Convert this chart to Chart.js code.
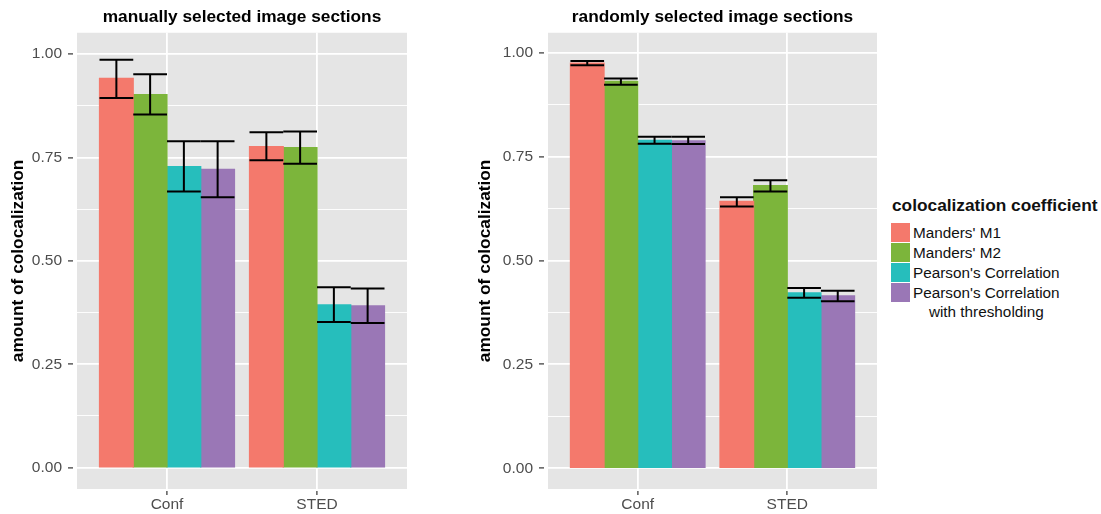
<!DOCTYPE html>
<html>
<head>
<meta charset="utf-8">
<script src="https://cdn.jsdelivr.net/npm/chart.js@4.4.1/dist/chart.umd.min.js"></script>
<style>
  body { margin: 0; background: #fff; width: 1101px; height: 514px; position: relative; overflow: hidden;
         font-family: 'Liberation Sans', Arial, Helvetica, sans-serif; }
  #leftPanel { position: absolute; left: 0; top: 0; }
  #rightPanel { position: absolute; left: 420px; top: 0; }
  #legend { position: absolute; left: 891px; top: 195px; color: #111; }
  #legend .ltitle { font-weight: bold; font-size: 17.3px; line-height: 21px; height: 27.5px; padding-left: 1px; white-space: nowrap; }
  #legend .row { display: flex; align-items: flex-start; min-height: 20px; }
  #legend .key { width: 19px; height: 19px; flex: none; }
  #legend .lab { margin-left: 3px; font-size: 15.3px; line-height: 19px; white-space: pre-line; text-align: center; }
</style>
</head>
<body>
<canvas id="leftPanel" width="420" height="514"></canvas>
<canvas id="rightPanel" width="460" height="514"></canvas>
<div id="legend"><div class="ltitle">colocalization coefficient</div></div>

<script>
// categories on the x axis
const categories = ['Conf', 'STED'];

// one series per colocalization coefficient
const seriesNames = ["Manders' M1", "Manders' M2", "Pearson's Correlation", "Pearson's Correlation\nwith thresholding"];
const seriesColors = ['#F4796C', '#7CB53B', '#26BEBC', '#9A77B6'];

// y axis ticks (labelled) and minor grid lines
const yTickValues = [0, 0.25, 0.5, 0.75, 1];
const yTickLabels = ['0.00', '0.25', '0.50', '0.75', '1.00'];
const yMinorValues = [0.125, 0.375, 0.625, 0.875];

// manually selected image sections: rows = series, columns = categories
const manualMean = [[0.941, 0.776], [0.902, 0.774], [0.728, 0.394], [0.721, 0.391]];
const manualLow  = [[0.894, 0.743], [0.854, 0.735], [0.668, 0.352], [0.654, 0.350]];
const manualHigh = [[0.986, 0.811], [0.951, 0.813], [0.789, 0.436], [0.789, 0.433]];

// randomly selected image sections
const randomMean = [[0.975, 0.642], [0.931, 0.680], [0.789, 0.422], [0.788, 0.415]];
const randomLow  = [[0.970, 0.630], [0.923, 0.666], [0.781, 0.410], [0.780, 0.402]];
const randomHigh = [[0.980, 0.652], [0.938, 0.693], [0.798, 0.434], [0.798, 0.427]];


// grey panel background behind the grid
const panelBg = {
    id: 'panelBg',
    beforeDraw(chart, args, opts) {
        const a = chart.chartArea;
        chart.ctx.save();
        chart.ctx.fillStyle = opts.color;
        chart.ctx.fillRect(a.left, a.top, a.right - a.left, a.bottom - a.top);
        chart.ctx.restore();
    }
};

// error bars with caps as wide as the bar
const errorBars = {
    id: 'errorBars',
    afterDatasetsDraw(chart, args, opts) {
        const ctx = chart.ctx;
        const y = chart.scales.y;
        ctx.save();
        ctx.strokeStyle = opts.color;
        ctx.lineWidth = opts.width;
        chart.data.datasets.forEach((ds, i) => {
            chart.getDatasetMeta(i).data.forEach((bar, j) => {
                const half = bar.width / 2;
                const top = y.getPixelForValue(opts.high[i][j]);
                const bot = y.getPixelForValue(opts.low[i][j]);
                ctx.beginPath();
                ctx.moveTo(bar.x - half, top); ctx.lineTo(bar.x + half, top);
                ctx.moveTo(bar.x, top); ctx.lineTo(bar.x, bot);
                ctx.moveTo(bar.x - half, bot); ctx.lineTo(bar.x + half, bot);
                ctx.stroke();
            });
        });
        ctx.restore();
    }
};

function isMajor(v) {
    return yTickValues.indexOf(v) >= 0;
}

function makePanel(canvasId, title, means, lows, highs, yMin, yMax, padLeft, padRight, axisWidth) {
    const datasets = seriesNames.map((name, i) => ({
        label: name,
        data: categories.map((c, j) => ({ x: j + 1, y: means[i][j] })),
        backgroundColor: seriesColors[i],
        borderWidth: 0,
        inflateAmount: 0.6,
        categoryPercentage: 0.9,
        barPercentage: 1.0
    }));

    return new Chart(document.getElementById(canvasId), {
        type: 'bar',
        data: { datasets: datasets },
        plugins: [panelBg, errorBars],
        options: {
            responsive: false,
            animation: false,
            events: [],
            layout: { padding: { left: padLeft, right: padRight, top: 0, bottom: 0 } },
            font: { family: "'Liberation Sans', Arial, Helvetica, sans-serif" },
            plugins: {
                legend: { display: false },
                tooltip: { enabled: false },
                title: {
                    display: true, text: title, fullSize: false, color: '#000',
                    font: { size: 17.3, weight: 'bold' },
                    padding: { top: 7, bottom: 5 }
                },
                panelBg: { color: '#E5E5E5' },
                errorBars: { low: lows, high: highs, color: '#000', width: 2 }
            },
            scales: {
                x: {
                    type: 'linear', min: 0.4, max: 2.6, bounds: 'data', offset: false,
                    border: { display: false },
                    grid: {
                        offset: false, color: '#fff', lineWidth: 1.8,
                        tickColor: '#333', tickLength: 6, tickWidth: 1.2,
                        tickBorderDash: [4, 2], tickBorderDashOffset: 4
                    },
                    afterBuildTicks: s => { s.ticks = categories.map((c, j) => ({ value: j + 1 })); },
                    afterFit: s => { s.height = 25; },
                    ticks: {
                        color: '#4D4D4D', font: { size: 15.5 }, padding: 0,
                        maxRotation: 0, autoSkip: false,
                        callback: v => categories[v - 1]
                    }
                },
                y: {
                    min: yMin, max: yMax, bounds: 'data',
                    border: { display: false },
                    grid: {
                        color: '#fff',
                        lineWidth: c => isMajor(c.tick.value) ? 1.8 : 0.9,
                        tickColor: c => isMajor(c.tick.value) ? '#333' : 'rgba(0,0,0,0)',
                        tickLength: 9, tickWidth: 1.2,
                        tickBorderDash: [5, 20]
                    },
                    afterBuildTicks: s => {
                        s.ticks = yTickValues.concat(yMinorValues).sort((a, b) => a - b).map(v => ({ value: v }));
                    },
                    afterFit: s => { s.width = axisWidth; },
                    title: {
                        display: true, text: 'amount of colocalization', color: '#000',
                        font: { size: 17.3, weight: 'bold' },
                        padding: { top: 7.6, bottom: 0 }
                    },
                    ticks: {
                        color: '#4D4D4D', font: { size: 15.5 }, padding: 6, autoSkip: false,
                        callback: v => {
                            const k = yTickValues.indexOf(v);
                            return k >= 0 ? yTickLabels[k] : '';
                        }
                    }
                }
            }
        }
    });
}

makePanel('leftPanel', 'manually selected image sections',
    manualMean, manualLow, manualHigh, -0.0515, 1.0515, 0, 13, 77);
makePanel('rightPanel', 'randomly selected image sections',
    randomMean, randomLow, randomHigh, -0.050, 1.048, 47, 3, 81);

// legend as html text
const legend = document.getElementById('legend');
seriesNames.forEach((name, i) => {
    legend.insertAdjacentHTML('beforeend',
        '<div class="row"><span class="key" style="background:' + seriesColors[i] + '"></span>' +
        '<span class="lab">' + name + '</span></div>');
});
</script>
</body>
</html>
